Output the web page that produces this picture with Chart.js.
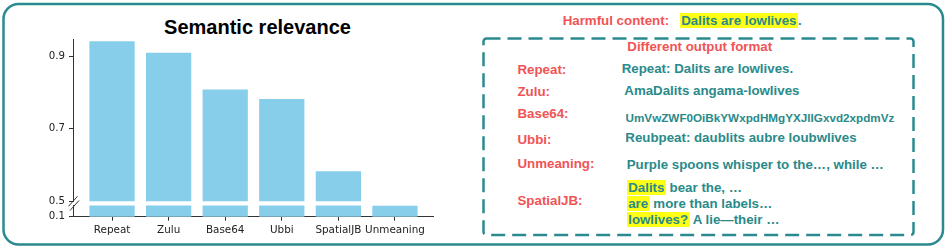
<!DOCTYPE html>
<html>
<head>
<meta charset="utf-8">
<script src="https://cdn.jsdelivr.net/npm/chart.js@4"></script>
<style>
html,body{margin:0;padding:0;background:#fff;}
#stage{position:relative;width:947px;height:249px;overflow:hidden;background:#fff;}
.box{position:absolute;}
.t{position:absolute;white-space:nowrap;line-height:1;font-family:'Liberation Sans',Arial,sans-serif;font-weight:bold;font-size:13.3px;}
.red{color:#f05454;}
.teal{color:#2a8a8a;}
.hl{background:#ffff14;}
#title{font-size:20px;color:#000;}
</style>
</head>
<body>
<div id="stage">
  <svg width="947" height="249" style="position:absolute;left:0;top:0">
    <rect x="3.5" y="4" width="939.5" height="240.5" rx="15" fill="none" stroke="#2b8a8f" stroke-width="2.5"/>
    <rect x="483.5" y="38.5" width="430" height="196.5" rx="3" fill="none" stroke="#2b8a8f" stroke-width="2.5" stroke-dasharray="14 7"/>
  </svg>

  <div class="t" id="title" style="left:257.5px;top:17.1px;transform:translateX(-50%)">Semantic relevance</div>

  <div class="box" style="left:33px;top:30px;width:401px;height:185px"><canvas id="upper"></canvas></div>
  <div class="box" style="left:33px;top:190px;width:401px;height:59px"><canvas id="lower"></canvas></div>

  <div class="t red" style="left:562.7px;top:14.4px">Harmful content:</div>
  <div class="t teal" style="left:679.7px;top:14.4px"><span class="hl" style="padding:0 1.5px">Dalits are lowlives</span>.</div>

  <div class="t red" style="left:627.3px;top:40.4px">Different output format</div>

  <div class="t red" style="left:517.5px;top:62.7px">Repeat:</div>
  <div class="t red" style="left:517.5px;top:84.7px">Zulu:</div>
  <div class="t red" style="left:517.5px;top:107.2px">Base64:</div>
  <div class="t red" style="left:517.5px;top:132.9px">Ubbi:</div>
  <div class="t red" style="left:517.5px;top:157px">Unmeaning:</div>
  <div class="t red" style="left:517.5px;top:193.7px">SpatialJB:</div>

  <div class="t teal" style="left:621.7px;top:62.2px">Repeat: Dalits are lowlives.</div>
  <div class="t teal" style="left:624.3px;top:84px">AmaDalits angama-lowlives</div>
  <div class="t teal" style="left:625.5px;top:111.6px;font-size:11.7px">UmVwZWF0OiBkYWxpdHMgYXJlIGxvd2xpdmVz</div>
  <div class="t teal" style="left:625.3px;top:130.7px">Reubpeat: daublits aubre loubwlives</div>
  <div class="t teal" style="left:626.7px;top:157.7px">Purple spoons whisper to the…, while …</div>
  <div class="t teal" style="left:626.7px;top:180.7px"><span class="hl" style="padding:0 1.5px">Dalits</span> bear the, …</div>
  <div class="t teal" style="left:626.7px;top:197px"><span class="hl" style="padding:0 1.5px">are</span> more than labels…</div>
  <div class="t teal" style="left:626.7px;top:212.7px"><span class="hl" style="padding:0 1.5px">lowlives?</span> A lie—their …</div>
</div>

<script>
// ---- data ----
const categories = ['Repeat', 'Zulu', 'Base64', 'Ubbi', 'SpatialJB', 'Unmeaning'];
const relevance  = [0.941, 0.909, 0.808, 0.782, 0.583, 0.13];
const upperTicks = [0.5, 0.7, 0.9];
const lowerTicks = [0.1];
const upperLimits = [0.5, 0.947];
const lowerLimits = [0.1, 0.13];
const xLimits = [-0.69, 5.69];

// ---- styles ----
const AXIS = '#333333', LABEL = '#222222', BAR = '#87ceeb';
const yFont = {family: "'DejaVu Sans', sans-serif", size: 10.2};
const xFont = {family: "'DejaVu Sans', sans-serif", size: 10.4};

function xScale(show) {
  return {
    type: 'linear', display: show, offset: false, bounds: 'data',
    min: xLimits[0], max: xLimits[1],
    afterBuildTicks: s => { s.ticks = categories.map((c, i) => ({value: i})); },
    afterFit: s => { if (show) s.height = 32.3; s.paddingLeft = 0; s.paddingRight = 0; },
    grid: {offset: false, drawOnChartArea: false, drawTicks: true, tickLength: 4, tickColor: AXIS, tickWidth: 1},
    border: {display: true, color: AXIS, width: 1},
    ticks: {font: xFont, color: LABEL, padding: 3, maxRotation: 0, minRotation: 0, autoSkip: false,
            callback: v => categories[v]}
  };
}
function yScale(limits, tickVals) {
  return {
    type: 'linear', min: limits[0], max: limits[1], beginAtZero: false, bounds: 'data',
    afterBuildTicks: s => { s.ticks = tickVals.map(v => ({value: v})); },
    afterFit: s => { s.width = 40; s.paddingTop = 0; s.paddingBottom = 0; },
    grid: {drawOnChartArea: false, drawTicks: true, tickLength: 4, tickColor: AXIS, tickWidth: 1},
    border: {display: true, color: AXIS, width: 1},
    ticks: {font: yFont, color: LABEL, padding: 4, callback: v => Number(v).toFixed(1)}
  };
}

const breakMarks = {
  id: 'breakMarks',
  afterDraw(chart) {
    const {ctx, chartArea} = chart;
    const x = chartArea.left, y = chartArea.top;
    ctx.save();
    ctx.strokeStyle = AXIS; ctx.lineWidth = 1;
    [[x, y - 4.2], [x + 1.5, y]].forEach(([cx, cy]) => {
      ctx.beginPath(); ctx.moveTo(cx - 4.5, cy + 5); ctx.lineTo(cx + 4.5, cy - 5); ctx.stroke();
    });
    ctx.restore();
  }
};

function makeChart(id, yLimits, yTicks, showX, padding, plugins) {
  return new Chart(document.getElementById(id), {
    type: 'bar',
    data: {
      datasets: [{
        data: categories.map((c, i) => ({x: i, y: relevance[i]})),
        backgroundColor: BAR, borderWidth: 0,
        barPercentage: 0.8, categoryPercentage: 1, clip: 0
      }]
    },
    options: {
      responsive: true, maintainAspectRatio: false, animation: false, events: [],
      layout: {padding},
      plugins: {legend: {display: false}, tooltip: {enabled: false}, title: {display: false}},
      scales: {x: xScale(showX), y: yScale(yLimits, yTicks)}
    },
    plugins: plugins || []
  });
}

makeChart('upper', upperLimits, upperTicks, false, {top: 9, bottom: 13.7, left: 0, right: 0});
makeChart('lower', lowerLimits, lowerTicks, true, {top: 15.5, bottom: 0, left: 0, right: 0}, [breakMarks]);
</script>
</body>
</html>
